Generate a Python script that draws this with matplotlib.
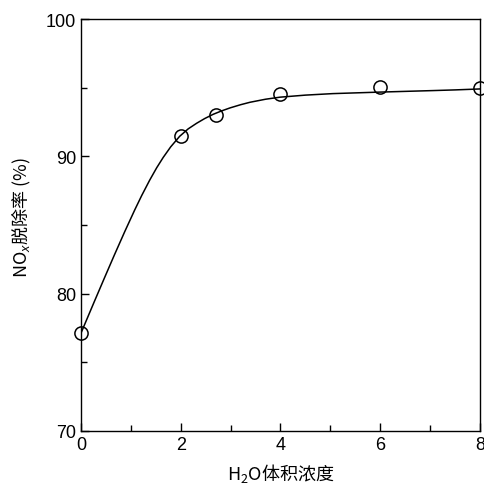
import numpy as np
import matplotlib
matplotlib.use('Agg')
import matplotlib.pyplot as plt
from matplotlib.ticker import MultipleLocator

plt.rcParams['font.family'] = ['Liberation Sans', 'Noto Sans CJK SC', 'DejaVu Sans']
# mathtext has no font fallback: the labels use the CJK font as their own font
plt.rcParams['mathtext.fontset'] = 'custom'
plt.rcParams['mathtext.rm'] = 'Noto Sans CJK SC'
plt.rcParams['mathtext.it'] = 'Liberation Sans:italic'

# measured points
water = [0, 2, 2.7, 4, 6, 8]
removal = [77.1, 91.5, 93.0, 94.55, 95.05, 95.0]

# fitted curve
curve_x = [0, 0.27, 0.47, 0.67, 0.88, 1.08, 1.22, 1.38, 1.52, 1.65, 1.8, 1.98,
           2.15, 2.32, 2.48, 2.65, 2.82, 2.99, 3.2, 3.39, 3.7, 3.99, 4.5, 5.05,
           5.99, 7.05, 7.5, 8.0]
curve_y = [77.1, 79.42, 81.12, 82.8, 84.52, 86.1, 87.15, 88.27, 89.17, 89.92, 90.69, 91.46,
           92.0, 92.41, 92.75, 93.06, 93.31, 93.53, 93.76, 93.94, 94.16, 94.31, 94.46, 94.57,
           94.68, 94.79, 94.84, 94.91]

fig = plt.figure(figsize=(4.84, 4.89), dpi=100)
ax = fig.add_axes([0.167, 0.1166, 0.825, 0.8424])

ax.plot(curve_x, curve_y, color='black', lw=1.1, zorder=2)
ax.plot(water, removal, linestyle='none', marker='o', markersize=9.5,
        markerfacecolor='none', markeredgecolor='black', markeredgewidth=1.1,
        clip_on=False, zorder=3)

ax.set_xlim(0, 8)
ax.set_ylim(70, 100)
ax.xaxis.set_major_locator(MultipleLocator(2))
ax.xaxis.set_minor_locator(MultipleLocator(1))
ax.yaxis.set_major_locator(MultipleLocator(10))
ax.yaxis.set_minor_locator(MultipleLocator(5))
ax.tick_params(which='both', direction='in', labelsize=13, width=1)
ax.tick_params(which='major', length=6)
ax.tick_params(which='minor', length=4)
for s in ax.spines.values():
    s.set_linewidth(1)

ax.set_xlabel('H$_2$O体积浓度', fontsize=13, labelpad=6, family='Noto Sans CJK SC')
ax.set_ylabel('NO$_x$脱除率 (%)', fontsize=13, family='Noto Sans CJK SC')
ax.yaxis.set_label_coords(-0.12, 0.52)

fig.savefig('out.png', dpi=100)
